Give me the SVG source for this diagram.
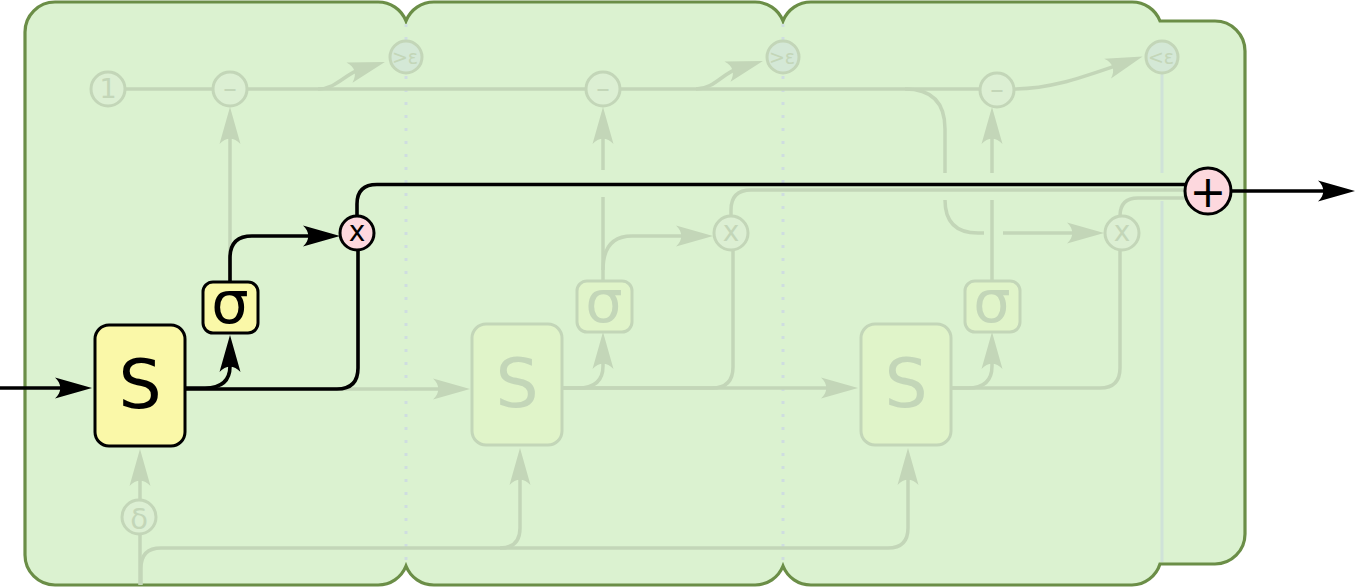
<svg xmlns="http://www.w3.org/2000/svg" width="1355" height="587" viewBox="0 0 1355 587">
<style>
.bk{fill:none;stroke:#000;stroke-width:3.6;stroke-linecap:butt}
.fd{fill:none;stroke:#c3d6b8;stroke-width:3.5}
.fdc{fill:#dcefd3;stroke:#c3d6b8;stroke-width:3}
.epc{fill:#d4e8d6;stroke:#c3d6b8;stroke-width:3}
.fdb{fill:#e0f4c9;stroke:#c3d6b8;stroke-width:3}
.yb{fill:#faf8a8;stroke:#000;stroke-width:3}
.pk{fill:#fdd8de;stroke:#000;stroke-width:3}
.t{font-family:"DejaVu Sans","Liberation Sans",sans-serif;text-anchor:middle}
.ft{fill:#c3d6b8}
.dot{fill:none;stroke:#cfdde0;stroke-width:3;stroke-dasharray:3 10}
.ma{marker-end:url(#ab)}
.mf{marker-end:url(#af)}
</style>
<defs>
<marker id="ab" markerUnits="userSpaceOnUse" markerWidth="40" markerHeight="24" viewBox="-12 -12 40 24" refX="0" refY="0" orient="auto" overflow="visible">
<path d="M-11,-10.5 L26,0 L-11,10.5 C-4,4 -4,-4 -11,-10.5 Z" fill="#000"/>
</marker>
<marker id="af" markerUnits="userSpaceOnUse" markerWidth="40" markerHeight="24" viewBox="-12 -12 40 24" refX="0" refY="0" orient="auto" overflow="visible">
<path d="M-11,-10.5 L26,0 L-11,10.5 C-4,4 -4,-4 -11,-10.5 Z" fill="#c3d6b8"/>
</marker>
</defs>

<g id="background">
<path d="M25,32 A30,30 0 0 1 55,2 H378 A30,30 0 0 1 406,21 A30,30 0 0 1 434,2 H755 A30,30 0 0 1 783,21 A30,30 0 0 1 811,2 H1132 A30,30 0 0 1 1160,21 H1215 A30,30 0 0 1 1245,51 V534 A30,30 0 0 1 1215,564 H1160 A30,30 0 0 1 1132,585 H811 A30,30 0 0 1 783,566 A30,30 0 0 1 755,585 H434 A30,30 0 0 1 406,566 A30,30 0 0 1 378,585 H55 A30,30 0 0 1 25,555 Z" fill="#dbf2d0" stroke="#6b8e47" stroke-width="3.2"/>
<path class="dot" d="M406,24 V564 M783,24 V564"/>
<path d="M1162,73 V173 M1162,201 V562" fill="none" stroke="#cfe2d8" stroke-width="3"/>
</g>

<g id="connectors">
<g id="faded-connectors">
<path class="fd" d="M125,89 H213"/>
<path class="fd" d="M247,89 H586"/>
<path class="fd mf" d="M318,89 C336,89 345,74 360,69.5"/>
<path class="fd" d="M620,89 H981"/>
<path class="fd mf" d="M696,89 C714,89 723,73 738,68.5"/>
<path class="fd mf" d="M1014,89 C1050,89 1080,78 1118,65"/>
<path class="fd" d="M905,89 Q945,89 945,129 V173"/>
<path class="fd" d="M945,200 Q945,233 978,233 H984"/>
<path class="fd mf" d="M1003,233 H1078"/>
<path class="fd mf" d="M230,282 V133"/>
<path class="fd" d="M603,281 V197"/>
<path class="fd mf" d="M603,170 V133"/>
<path class="fd mf" d="M603,270 Q603,236 632,236 H687"/>
<path class="fd" d="M992,281 V200"/>
<path class="fd mf" d="M992,173 V133"/>
<path class="fd mf" d="M185,389 H444"/>
<path class="fd mf" d="M562,388 H578 Q603,388 603,366 V358"/>
<path class="fd mf" d="M562,388 H832"/>
<path class="fd" d="M562,388 H712 Q733,388 733,367 V250"/>
<path class="fd" d="M731,216 V210 Q731,190 751,190 H1187"/>
<path class="fd mf" d="M951,388 H968 Q992,388 992,366 V358"/>
<path class="fd" d="M951,388 H1100 Q1120,388 1120,368 V250"/>
<path class="fd" d="M1120,216 Q1120,198 1138,198 H1187"/>
<path class="fd" d="M140,585 V534"/>
<path class="fd mf" d="M140,500 V475"/>
<path class="fd" d="M141,585 V568 Q141,548 161,548 H888"/>
<path class="fd mf" d="M500,548 Q520,548 520,528 V474"/>
<path class="fd mf" d="M888,548 Q908,548 908,528 V474"/>
</g>
<g id="active-connectors">
<path class="bk ma" d="M0,388 H66"/>
<path class="bk ma" d="M185,388 H205 Q230,388 230,366 V361"/>
<path class="bk ma" d="M230,282 V258 Q230,236 252,236 H314"/>
<path class="bk" d="M185,389 H337 Q358,389 358,368 V250"/>
<path class="bk" d="M357,216 V204 Q357,184.5 377,184.5 H1187"/>
<path class="bk ma" d="M1231,191 H1329"/>
</g>
</g>

<g id="n-one"><circle class="fdc" cx="108" cy="89" r="17"/><text class="t ft" x="108" y="98" font-size="27">1</text></g>
<g id="n-minus1"><circle class="fdc" cx="230" cy="89" r="17"/><text class="t ft" x="230" y="97" font-size="27">–</text></g>
<g id="n-gt1"><circle class="epc" cx="406" cy="57" r="16"/><text class="t ft" x="405" y="64" font-size="19">&gt;ε</text></g>
<g id="n-minus2"><circle class="fdc" cx="603" cy="89" r="17"/><text class="t ft" x="603" y="97" font-size="27">–</text></g>
<g id="n-gt2"><circle class="epc" cx="783" cy="57" r="16"/><text class="t ft" x="782" y="64" font-size="19">&gt;ε</text></g>
<g id="n-minus3"><circle class="fdc" cx="997" cy="90" r="17"/><text class="t ft" x="997" y="98" font-size="27">–</text></g>
<g id="n-lt"><circle class="epc" cx="1162" cy="57" r="16"/><text class="t ft" x="1161" y="64" font-size="19">&lt;ε</text></g>
<g id="n-delta"><circle class="fdc" cx="139" cy="517" r="17"/><text class="t ft" x="139" y="529" font-size="29">δ</text></g>

<g id="n-S1"><rect class="yb" x="95" y="325" width="90" height="121" rx="14"/><text class="t" x="140" y="408" font-size="68">S</text></g>
<g id="n-sig1"><rect class="yb" x="203" y="282" width="55" height="51" rx="10"/><text class="t" x="230" y="323" font-size="59">σ</text></g>
<g id="n-x1"><circle class="pk" cx="357" cy="233" r="17"/><text class="t" x="357" y="241" font-size="28">x</text></g>

<g id="n-S2"><rect class="fdb" x="472" y="324" width="90" height="121" rx="14"/><text class="t ft" x="517" y="407" font-size="68">S</text></g>
<g id="n-sig2"><rect class="fdb" x="577" y="281" width="55" height="51" rx="10"/><text class="t ft" x="604" y="322" font-size="59">σ</text></g>
<g id="n-x2"><circle class="fdc" cx="731" cy="233" r="17"/><text class="t ft" x="731" y="241" font-size="28">x</text></g>

<g id="n-S3"><rect class="fdb" x="861" y="324" width="90" height="121" rx="14"/><text class="t ft" x="906" y="407" font-size="68">S</text></g>
<g id="n-sig3"><rect class="fdb" x="965" y="281" width="55" height="51" rx="10"/><text class="t ft" x="992" y="322" font-size="59">σ</text></g>
<g id="n-x3"><circle class="fdc" cx="1122" cy="233" r="17"/><text class="t ft" x="1122" y="241" font-size="28">x</text></g>

<g id="n-plus"><circle class="pk" cx="1208" cy="191" r="23"/><text class="t" x="1208" y="207" font-size="44">+</text></g>
</svg>
